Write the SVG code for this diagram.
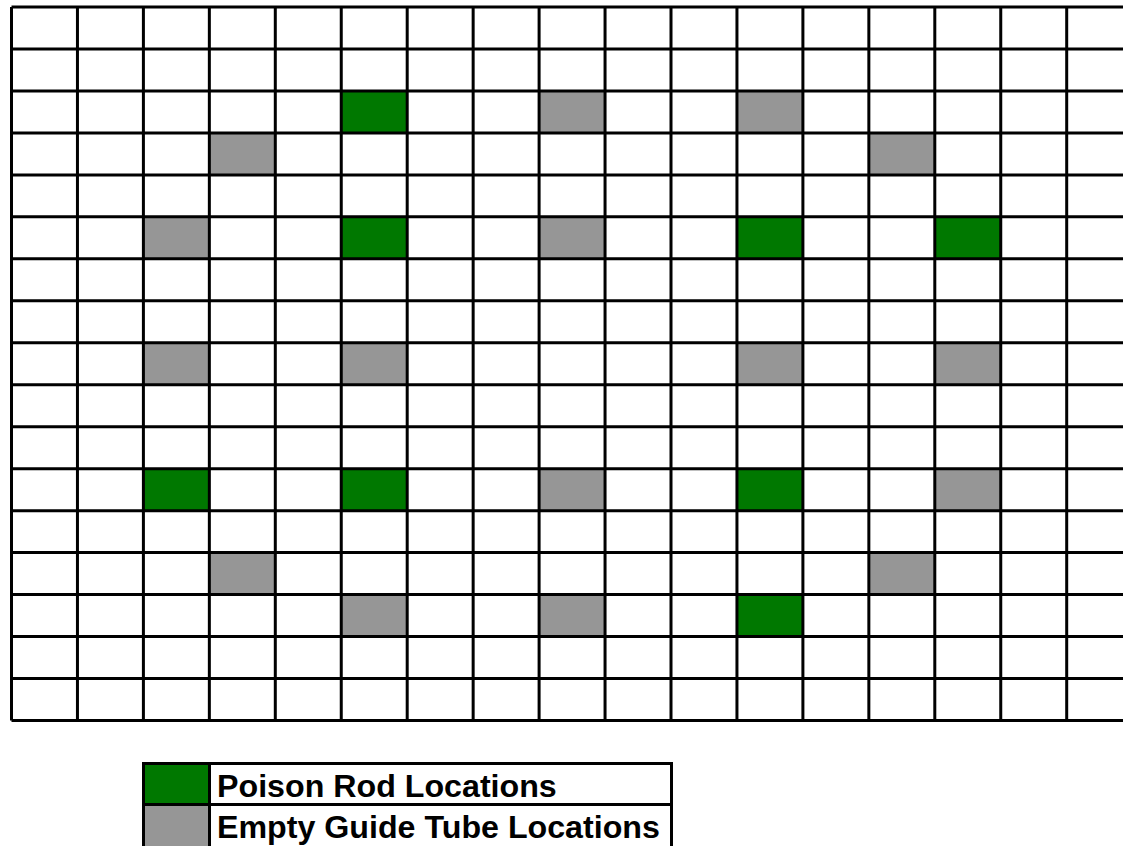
<svg xmlns="http://www.w3.org/2000/svg" width="1123" height="846" viewBox="0 0 1123 846">
  <style>
    .poison { fill: #007800; }
    .empty { fill: #969696; }
    .gl { stroke: #000; stroke-width: 3; fill: none; vector-effect: non-scaling-stroke; }
    .lg { stroke: #000; stroke-width: 3; fill: none; }
    .lt { font-family: "Liberation Sans", Arial, sans-serif; font-weight: bold; font-size: 32.2px; fill: #000; }
  </style>
  <rect x="0" y="0" width="1123" height="846" fill="#fff"/>
  <g id="grid" transform="translate(11.5,7) scale(65.95,41.97)">
    <g id="cells">
      <rect class="poison" x="5" y="2" width="1" height="1"/>
      <rect class="empty" x="8" y="2" width="1" height="1"/>
      <rect class="empty" x="11" y="2" width="1" height="1"/>
      <rect class="empty" x="3" y="3" width="1" height="1"/>
      <rect class="empty" x="13" y="3" width="1" height="1"/>
      <rect class="empty" x="2" y="5" width="1" height="1"/>
      <rect class="poison" x="5" y="5" width="1" height="1"/>
      <rect class="empty" x="8" y="5" width="1" height="1"/>
      <rect class="poison" x="11" y="5" width="1" height="1"/>
      <rect class="poison" x="14" y="5" width="1" height="1"/>
      <rect class="empty" x="2" y="8" width="1" height="1"/>
      <rect class="empty" x="5" y="8" width="1" height="1"/>
      <rect class="empty" x="11" y="8" width="1" height="1"/>
      <rect class="empty" x="14" y="8" width="1" height="1"/>
      <rect class="poison" x="2" y="11" width="1" height="1"/>
      <rect class="poison" x="5" y="11" width="1" height="1"/>
      <rect class="empty" x="8" y="11" width="1" height="1"/>
      <rect class="poison" x="11" y="11" width="1" height="1"/>
      <rect class="empty" x="14" y="11" width="1" height="1"/>
      <rect class="empty" x="3" y="13" width="1" height="1"/>
      <rect class="empty" x="13" y="13" width="1" height="1"/>
      <rect class="empty" x="5" y="14" width="1" height="1"/>
      <rect class="empty" x="8" y="14" width="1" height="1"/>
      <rect class="poison" x="11" y="14" width="1" height="1"/>
    </g>
    <g id="gridlines">
      <path class="gl" d="M0 0H17M0 1H17M0 2H17M0 3H17M0 4H17M0 5H17M0 6H17M0 7H17M0 8H17M0 9H17M0 10H17M0 11H17M0 12H17M0 13H17M0 14H17M0 15H17M0 16H17M0 17H17"/>
      <path class="gl" d="M0 0V17M1 0V17M2 0V17M3 0V17M4 0V17M5 0V17M6 0V17M7 0V17M8 0V17M9 0V17M10 0V17M11 0V17M12 0V17M13 0V17M14 0V17M15 0V17M16 0V17M17 0V17"/>
    </g>
  </g>
  <g id="legend">
    <g id="legend-poison">
      <rect class="poison" x="143.5" y="763.5" width="66" height="41"/>
      <rect class="lg" x="143.5" y="763.5" width="66" height="41"/>
      <rect class="lg" x="209.5" y="763.5" width="462" height="41"/>
      <text class="lt" x="217" y="796.5">Poison Rod Locations</text>
    </g>
    <g id="legend-empty">
      <rect class="empty" x="143.5" y="804.5" width="66" height="43"/>
      <rect class="lg" x="143.5" y="804.5" width="66" height="43"/>
      <rect class="lg" x="209.5" y="804.5" width="462" height="43"/>
      <text class="lt" x="217" y="838">Empty Guide Tube Locations</text>
    </g>
  </g>
</svg>
